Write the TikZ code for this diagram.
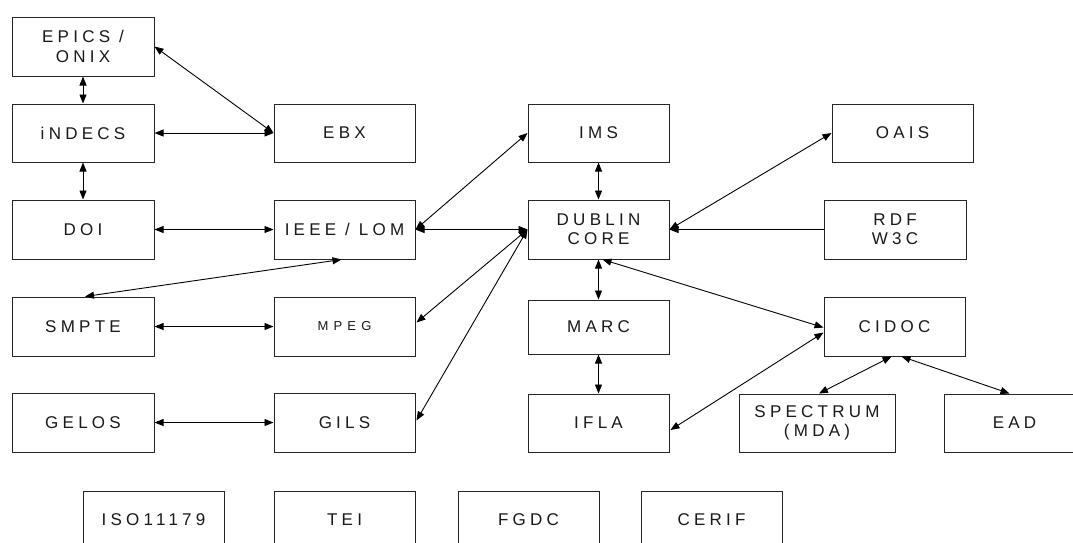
\documentclass[tikz,border=0pt]{standalone}
\usepackage{fontspec}
\usetikzlibrary{arrows.meta}
\newfontfamily\lblfont[LetterSpace=25]{Liberation Sans}
\newfontfamily\lblsmall[LetterSpace=40]{Liberation Sans}
\begin{document}
\begin{tikzpicture}[x=1pt,y=-1pt,
  box/.style={draw=black!85, line width=1pt, fill=white, inner sep=0pt, align=center,
    text=black!90, font=\lblfont\fontsize{17}{19.3}\selectfont},
  smallbox/.style={box, font=\lblsmall\fontsize{13}{15}\selectfont},
  link/.style={line width=0.9pt, black, {Triangle[length=9pt,width=7pt]}-{Triangle[length=9pt,width=7pt]}},
  onelink/.style={line width=0.9pt, black, -{Triangle[length=9pt,width=7pt]}}]
\useasboundingbox (0,0) rectangle (1073,542);
\clip (0,0) rectangle (1073,542);
\fill[white] (0,0) rectangle (1073,542);
% column 1
\node[box, minimum width=142pt, minimum height=59pt] (epics) at (83,46.5) {EPICS /\\ONIX};
\node[box, minimum width=142pt, minimum height=58pt] (indecs) at (83,133) {iNDECS};
\node[box, minimum width=142pt, minimum height=59pt] (doi) at (83,229.5) {DOI};
\node[box, minimum width=142pt, minimum height=59pt] (smpte) at (83,326.5) {SMPTE};
\node[box, minimum width=142pt, minimum height=59pt] (gelos) at (83,422.5) {GELOS};
% column 2
\node[box, minimum width=141pt, minimum height=58pt] (ebx) at (344.5,133) {EBX};
\node[box, minimum width=141pt, minimum height=59pt] (ieee) at (344.5,229.5) {IEEE / LOM};
\node[smallbox, minimum width=141pt, minimum height=59pt] (mpeg) at (344.5,326.5) {MPEG};
\node[box, minimum width=141pt, minimum height=59pt] (gils) at (344.5,422.5) {GILS};
% column 3
\node[box, minimum width=141pt, minimum height=58pt] (ims) at (598.5,133) {IMS};
\node[box, minimum width=141pt, minimum height=59pt] (dublin) at (598.5,229.5) {DUBLIN\\CORE};
\node[box, minimum width=141pt, minimum height=54pt] (marc) at (598.5,327) {MARC};
\node[box, minimum width=141pt, minimum height=58pt] (ifla) at (598.5,423) {IFLA};
% right side
\node[box, minimum width=141pt, minimum height=58pt] (oais) at (902.5,133) {OAIS};
\node[box, minimum width=142pt, minimum height=59pt] (rdf) at (895,229.5) {RDF\\W3C};
\node[box, minimum width=141pt, minimum height=59pt] (cidoc) at (894.5,326.5) {CIDOC};
\node[box, minimum width=156pt, minimum height=58pt] (spectrum) at (817,423) {SPECTRUM\\(MDA)};
\node[box, minimum width=141pt, minimum height=58pt] (ead) at (1014.5,423) {EAD};
% bottom row
\node[box, minimum width=141pt, minimum height=58pt] (iso) at (153.5,520) {ISO11179};
\node[box, minimum width=141pt, minimum height=58pt] (tei) at (344.5,520) {TEI};
\node[box, minimum width=141pt, minimum height=58pt] (fgdc) at (528.5,520) {FGDC};
\node[box, minimum width=141pt, minimum height=58pt] (cerif) at (711.5,520) {CERIF};
% connectors
\draw[link] (epics.east) -- (ebx.west);
\draw[link] (epics.south) -- (indecs.north);
\draw[link] (indecs.east) -- (ebx.west);
\draw[link] (indecs.south) -- (doi.north);
\draw[link] (doi.east) -- (ieee.west);
\draw[link] (ieee.east) -- (dublin.west);
\draw[link] (ieee.east) -- (ims.west);
\draw[link] ([xshift=2pt]smpte.north) -- ([xshift=-3pt]ieee.south);
\draw[link] (smpte.east) -- (mpeg.west);
\draw[link] (gelos.east) -- (gils.west);
\draw[link] (dublin.west) -- ([yshift=4pt,xshift=1pt]mpeg.east);
\draw[link] (dublin.west) -- ([yshift=2pt,xshift=1pt]gils.east);
\draw[link] (ims.south) -- (dublin.north);
\draw[link] (dublin.east) -- (oais.west);
\draw[onelink] (rdf.west) -- (dublin.east);
\draw[link] (dublin.south) -- (marc.north);
\draw[link] ([xshift=4pt]dublin.south) -- ([yshift=-1pt]cidoc.west);
\draw[link] (marc.south) -- (ifla.north);
\draw[link] ([yshift=-6pt]cidoc.west) -- ([yshift=-7pt,xshift=1pt]ifla.east);
\draw[link] ([xshift=-3pt]cidoc.south) -- ([xshift=2pt]spectrum.north);
\draw[link] ([xshift=7pt]cidoc.south) -- ([xshift=-5pt]ead.north);
\end{tikzpicture}
\end{document}
